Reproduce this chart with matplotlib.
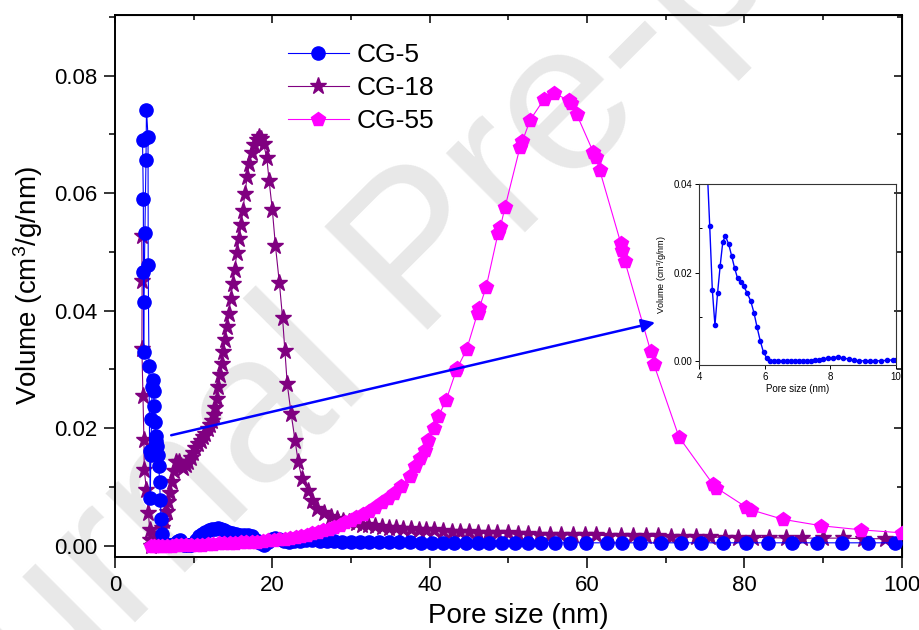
import matplotlib
matplotlib.use("Agg")
import matplotlib.pyplot as plt
import numpy as np
from matplotlib.ticker import MultipleLocator

plt.rcParams['font.family'] = ['Liberation Sans', 'DejaVu Sans']
plt.rcParams['mathtext.default'] = 'regular'

# pore size distributions (BJH), pore size in nm, dV/dD in cm3/g/nm
cg5_x = [3.50, 3.60, 3.62, 3.65, 3.68, 3.80, 3.94, 4.00, 4.20, 4.22,
         4.32, 4.40, 4.48, 4.56, 4.64, 4.72, 4.80, 4.90, 4.99, 5.08,
         5.17, 5.26, 5.36, 5.46, 5.57, 5.67, 5.76, 5.86, 5.96, 6.06,
         6.17, 6.29, 6.41, 6.54, 6.67, 6.79, 6.91, 7.04, 7.16, 7.29,
         7.41, 7.53, 7.65, 7.77, 7.91, 8.07, 8.23, 8.39, 8.56, 8.72,
         8.88, 9.05, 9.21, 9.37, 9.53, 9.72, 9.90, 10.00, 10.30, 10.70,
         11.10, 11.50, 11.90, 12.30, 12.70, 13.10, 13.50, 13.90, 14.40, 14.90,
         15.40, 15.90, 16.40, 16.90, 17.40, 17.90, 18.40, 18.90, 19.40, 19.90,
         20.40, 20.90, 21.50, 22.10, 22.80, 23.50, 24.30, 25.10, 26.00, 26.90,
         27.90, 28.90, 30.00, 31.10, 32.30, 33.50, 34.80, 36.10, 37.50, 38.90,
         40.30, 41.70, 43.10, 44.60, 46.10, 47.60, 49.20, 50.80, 52.50, 54.20,
         56.00, 57.90, 59.90, 62.60, 64.50, 66.80, 69.40, 71.90, 74.50, 77.30,
         80.20, 83.00, 86.10, 89.20, 92.40, 95.70, 99.20]
cg5_y = [0.0691, 0.0590, 0.0466, 0.0330, 0.0415, 0.0532, 0.0656, 0.0742, 0.0696, 0.0477,
         0.0306, 0.0161, 0.0081, 0.0154, 0.0216, 0.0270, 0.0282, 0.0264, 0.0237, 0.0210,
         0.0187, 0.0178, 0.0169, 0.0154, 0.0136, 0.0109, 0.0078, 0.0046, 0.0020, 0.0007,
         0.0001, 0.0001, 0.0001, 0.0001, 0.0001, 0.0001, 0.0001, 0.0001, 0.0001, 0.0001,
         0.0001, 0.0002, 0.0003, 0.0005, 0.0007, 0.0008, 0.0010, 0.0007, 0.0005, 0.0002,
         0.0001, 0.0001, 0.0001, 0.0001, 0.0001, 0.0002, 0.0003, 0.0003, 0.0010, 0.0016,
         0.0020, 0.0023, 0.0026, 0.0028, 0.0029, 0.0030, 0.0029, 0.0026, 0.0023, 0.0021,
         0.0020, 0.0019, 0.0019, 0.0018, 0.0016, 0.0010, 0.0004, 0.0002, 0.0006, 0.0012,
         0.0014, 0.0011, 0.0008, 0.0007, 0.0008, 0.0008, 0.0009, 0.0009, 0.0008, 0.0008,
         0.0008, 0.0007, 0.0007, 0.0007, 0.0006, 0.0006, 0.0006, 0.0006, 0.0006, 0.0005,
         0.0005, 0.0005, 0.0005, 0.0005, 0.0005, 0.0005, 0.0005, 0.0005, 0.0005, 0.0005,
         0.0005, 0.0005, 0.0005, 0.0005, 0.0005, 0.0005, 0.0005, 0.0005, 0.0005, 0.0005,
         0.0005, 0.0005, 0.0005, 0.0005, 0.0005, 0.0005, 0.0005]

cg18_x = [3.40, 3.45, 3.42, 3.55, 3.68, 3.72, 4.00, 4.25, 4.40, 4.50,
          4.62, 4.85, 5.10, 5.40, 5.70, 6.00, 6.25, 6.55, 6.80, 7.05,
          7.30, 7.55, 7.80, 8.10, 8.40, 8.70, 9.00, 9.30, 9.60, 9.90,
          10.20, 10.60, 10.90, 11.20, 11.50, 11.80, 12.10, 12.35, 12.55, 12.75,
          12.95, 13.15, 13.35, 13.55, 13.75, 13.95, 14.20, 14.45, 14.70, 14.95,
          15.20, 15.50, 15.75, 16.00, 16.25, 16.50, 16.80, 17.05, 17.40, 17.70,
          18.00, 18.30, 18.60, 18.90, 19.30, 19.60, 20.00, 20.40, 20.90, 21.30,
          21.60, 21.90, 22.40, 22.90, 23.30, 23.80, 24.50, 25.10, 25.70, 26.60,
          27.40, 28.20, 29.00, 29.80, 30.60, 31.40, 32.20, 33.00, 33.90, 34.80,
          35.70, 36.60, 37.60, 38.60, 39.60, 40.60, 41.70, 42.80, 43.90, 45.00,
          46.20, 47.40, 48.60, 49.90, 51.20, 52.50, 53.90, 55.30, 56.70, 58.20,
          59.70, 61.20, 62.80, 64.30, 65.80, 67.50, 69.00, 70.70, 72.20, 73.90,
          75.60, 77.50, 79.20, 81.10, 83.20, 85.30, 87.40, 90.00, 92.60, 95.10,
          97.90]
cg18_y = [0.0527, 0.0450, 0.0335, 0.0254, 0.0180, 0.0129, 0.0095, 0.0056, 0.0027, 0.0010,
          0.0000, 0.0002, 0.0006, 0.0012, 0.0020, 0.0030, 0.0042, 0.0058, 0.0075, 0.0090,
          0.0108, 0.0127, 0.0143, 0.0142, 0.0135, 0.0133, 0.0138, 0.0142, 0.0150, 0.0158,
          0.0167, 0.0174, 0.0179, 0.0185, 0.0190, 0.0198, 0.0205, 0.0213, 0.0222, 0.0235,
          0.0250, 0.0270, 0.0290, 0.0310, 0.0330, 0.0350, 0.0372, 0.0395, 0.0420, 0.0445,
          0.0470, 0.0498, 0.0522, 0.0545, 0.0570, 0.0598, 0.0628, 0.0650, 0.0668, 0.0682,
          0.0691, 0.0695, 0.0692, 0.0683, 0.0660, 0.0620, 0.0572, 0.0510, 0.0447, 0.0388,
          0.0331, 0.0275, 0.0224, 0.0178, 0.0142, 0.0113, 0.0094, 0.0077, 0.0063, 0.0055,
          0.0049, 0.0045, 0.0042, 0.0040, 0.0038, 0.0036, 0.0035, 0.0033, 0.0032, 0.0031,
          0.0030, 0.0029, 0.0028, 0.0027, 0.0027, 0.0026, 0.0025, 0.0024, 0.0024, 0.0023,
          0.0022, 0.0022, 0.0021, 0.0021, 0.0020, 0.0020, 0.0019, 0.0019, 0.0019, 0.0018,
          0.0018, 0.0018, 0.0017, 0.0017, 0.0016, 0.0016, 0.0016, 0.0015, 0.0015, 0.0015,
          0.0015, 0.0014, 0.0014, 0.0014, 0.0014, 0.0013, 0.0013, 0.0013, 0.0013, 0.0012,
          0.0012]

cg55_x = [4.60, 5.00, 5.50, 6.00, 6.60, 7.20, 7.80, 8.40, 9.00, 9.70,
          10.40, 11.10, 11.80, 12.50, 13.20, 13.90, 14.60, 15.30, 16.00, 16.70,
          17.40, 18.10, 18.80, 19.50, 20.20, 20.90, 21.60, 22.30, 23.00, 23.70,
          24.40, 25.10, 25.80, 26.50, 27.20, 27.90, 28.60, 29.30, 30.00, 30.70,
          31.50, 32.30, 33.10, 33.90, 34.70, 35.50, 36.40, 37.50, 38.10, 38.80,
          39.40, 39.80, 40.50, 41.10, 42.10, 43.40, 43.50, 44.70, 46.10, 46.30,
          47.20, 48.70, 49.00, 49.60, 51.50, 51.80, 52.80, 54.60, 55.80, 57.70,
          58.00, 58.70, 60.80, 61.10, 61.60, 64.30, 64.50, 64.80, 68.10, 68.50,
          71.70, 76.00, 76.40, 80.20, 80.90, 84.90, 89.80, 94.90, 100.00]
cg55_y = [0.0000, 0.0000, 0.0000, 0.0000, 0.0000, 0.0000, 0.0001, 0.0001, 0.0001, 0.0002,
          0.0002, 0.0002, 0.0003, 0.0003, 0.0004, 0.0004, 0.0005, 0.0005, 0.0006, 0.0006,
          0.0007, 0.0007, 0.0008, 0.0009, 0.0010, 0.0011, 0.0012, 0.0014, 0.0015, 0.0017,
          0.0019, 0.0021, 0.0023, 0.0026, 0.0029, 0.0032, 0.0036, 0.0040, 0.0044, 0.0049,
          0.0054, 0.0059, 0.0066, 0.0074, 0.0081, 0.0090, 0.0102, 0.0118, 0.0135, 0.0150,
          0.0163, 0.0180, 0.0200, 0.0220, 0.0248, 0.0299, 0.0302, 0.0334, 0.0396, 0.0404,
          0.0441, 0.0532, 0.0543, 0.0577, 0.0679, 0.0689, 0.0725, 0.0761, 0.0770, 0.0758,
          0.0753, 0.0734, 0.0670, 0.0661, 0.0640, 0.0515, 0.0503, 0.0485, 0.0331, 0.0309,
          0.0185, 0.0105, 0.0099, 0.0066, 0.0061, 0.0045, 0.0034, 0.0027, 0.0022]

blue = '#0000ff'
purple = '#800080'
magenta = '#ff00ff'

fig = plt.figure(figsize=(9.2, 6.3), dpi=100)

# "Journal Pre-proof" stamp behind everything
fig.text(-0.125, -0.385, 'Journal Pre-proof', rotation=45, rotation_mode='anchor',
         ha='left', va='baseline', fontsize=152, color='#e8e8e8', zorder=-5)

ax = fig.add_axes([0.125, 0.116, 0.855, 0.860])
ax.set_facecolor('none')

ax.plot(cg5_x, cg5_y, '-o', color=blue, lw=0.8, ms=9.5, label='CG-5', zorder=3)
ax.plot(cg18_x, cg18_y, '-*', color=purple, lw=0.8, ms=12.5, label='CG-18', zorder=2)
ax.plot(cg55_x, cg55_y, '-p', color=magenta, lw=0.8, ms=10.5, label='CG-55', zorder=4)

ax.set_xlim(0, 100)
ax.set_ylim(-0.0019, 0.0903)
ax.xaxis.set_major_locator(MultipleLocator(20))
ax.xaxis.set_minor_locator(MultipleLocator(10))
ax.yaxis.set_major_locator(MultipleLocator(0.02))
ax.yaxis.set_minor_locator(MultipleLocator(0.01))
ax.yaxis.set_major_formatter(matplotlib.ticker.FormatStrFormatter('%.2f'))
ax.tick_params(which='major', direction='out', length=8, width=1.1, labelsize=16, pad=5)
ax.tick_params(which='minor', direction='out', length=4.5, width=1.1)
for s in ax.spines.values():
    s.set_linewidth(1.4)

# mirrored ticks on top and right, pointing in
top = ax.secondary_xaxis('top')
top.xaxis.set_major_locator(MultipleLocator(20))
top.xaxis.set_minor_locator(MultipleLocator(10))
top.tick_params(which='both', direction='in', labeltop=False, width=1.1)
top.tick_params(which='major', length=6)
top.tick_params(which='minor', length=3.5)
right = ax.secondary_yaxis('right')
right.yaxis.set_major_locator(MultipleLocator(0.02))
right.yaxis.set_minor_locator(MultipleLocator(0.01))
right.tick_params(which='both', direction='in', labelright=False, width=1.1)
right.tick_params(which='major', length=6)
right.tick_params(which='minor', length=3.5)

ax.set_xlabel('Pore size (nm)', fontsize=20, labelpad=6)
ax.xaxis.set_label_coords(0.513, -0.085)
ax.set_ylabel('Volume (cm$^3$/g/nm)', fontsize=20, labelpad=6)

ax.legend(loc='upper left', bbox_to_anchor=(0.293, 0.961), bbox_transform=fig.transFigure,
          frameon=False, fontsize=19, handlelength=2.3, handletextpad=0.3,
          labelspacing=0.34, borderpad=0.2)

ax.annotate('', xy=(69.0, 0.0381), xytext=(6.8, 0.0187),
            arrowprops=dict(arrowstyle='-|>', color=blue, lw=1.8, mutation_scale=20),
            zorder=5)

# zoom on the small-pore region of CG-5
ins = fig.add_axes([0.760, 0.421, 0.214, 0.287])
ins.set_facecolor('none')
ins.plot(cg5_x, cg5_y, '-o', color=blue, lw=1.0, ms=3)
ins.set_xlim(4, 10)
ins.set_ylim(-0.0008, 0.04)
ins.xaxis.set_major_locator(MultipleLocator(2))
ins.yaxis.set_major_locator(MultipleLocator(0.02))
ins.yaxis.set_minor_locator(MultipleLocator(0.01))
ins.yaxis.set_major_formatter(matplotlib.ticker.FormatStrFormatter('%.2f'))
ins.tick_params(which='major', direction='out', length=3, width=0.7, labelsize=7, pad=2)
ins.tick_params(axis='y', which='minor', direction='in', length=2, width=0.7)
for s in ins.spines.values():
    s.set_linewidth(0.8)
    s.set_color('#333333')
ins.set_xlabel('Pore size (nm)', fontsize=7, labelpad=2)
ins.set_ylabel('Volume (cm$^3$/g/nm)', fontsize=6.5, labelpad=3)

fig.savefig('out.png', dpi=100)
